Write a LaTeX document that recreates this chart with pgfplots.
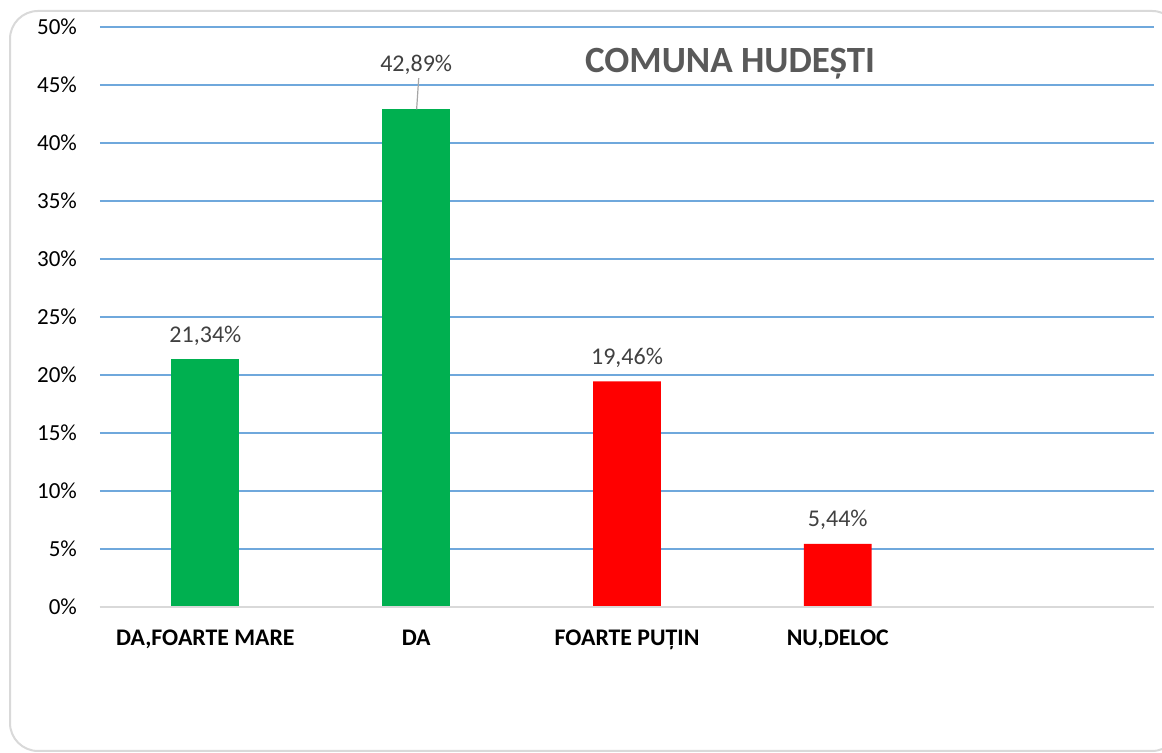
\documentclass[border=0pt]{standalone}
\usepackage{fontspec}
\setmainfont{Carlito}
\usepackage{pgfplots}
\pgfplotsset{compat=1.18}
\definecolor{cgreen}{HTML}{00B050}
\definecolor{cred}{HTML}{FF0000}
\definecolor{cgrid}{HTML}{6FA8DC}
\definecolor{czero}{HTML}{D9D9D9}
\definecolor{clabel}{HTML}{404040}
\definecolor{ctitle}{HTML}{595959}
\begin{document}
\begin{tikzpicture}
\useasboundingbox (0,0) rectangle (581pt,376.5pt);
\clip (0,0) rectangle (581pt,376.5pt);
\draw[czero, line width=1pt, rounded corners=14pt] (5pt,1pt) rectangle (590pt,371pt);
\begin{axis}[
    at={(50pt,73pt)}, anchor=south west,
    scale only axis, width=527pt, height=290pt,
    xmin=-0.5, xmax=4.5, ymin=0, ymax=50,
    xtick={0,1,2,3},
    xticklabels={{DA,FOARTE MARE}, DA, {FOARTE PUȚIN}, {NU,DELOC}},
    ytick={0,5,...,50},
    yticklabel={\pgfmathprintnumber{\tick}\%},
    /pgf/number format/assume math mode=true,
    axis line style={draw=none},
    tick style={draw=none},
    ymajorgrids, grid style={cgrid, line width=0.75pt},
    yticklabel style={font=\fontsize{11.5}{12}\selectfont, text=black, xshift=-8pt},
    xticklabel style={font=\fontsize{11.9}{13}\selectfont\bfseries, text=black, yshift=-8pt},
    clip=false,
]
\addplot[ybar, bar width=0.322, bar shift=0pt, fill=cgreen, draw=none,
    nodes near coords={\pgfmathprintnumber[fixed, fixed zerofill, precision=2, use comma]{\pgfplotspointmeta}\%},
    nodes near coords style={font=\fontsize{12}{13}\selectfont, text=clabel, anchor=south, yshift=3.4pt}]
    coordinates {(0,21.34)};
\addplot[ybar, bar width=0.322, bar shift=0pt, fill=cgreen, draw=none,
    nodes near coords={\pgfmathprintnumber[fixed, fixed zerofill, precision=2, use comma]{\pgfplotspointmeta}\%},
    nodes near coords style={font=\fontsize{12}{13}\selectfont, text=clabel, anchor=south, yshift=13.8pt}]
    coordinates {(1,42.89)};
\addplot[ybar, bar width=0.322, bar shift=0pt, fill=cred, draw=none,
    nodes near coords={\pgfmathprintnumber[fixed, fixed zerofill, precision=2, use comma]{\pgfplotspointmeta}\%},
    nodes near coords style={font=\fontsize{12}{13}\selectfont, text=clabel, anchor=south, yshift=3.4pt}]
    coordinates {(2,19.46) (3,5.44)};
\draw[gray!70, line width=0.6pt] (axis cs:1.012,45.6) -- (axis cs:1.002,42.89);
\draw[czero, line width=1pt] (rel axis cs:0,0) -- (rel axis cs:1,0);
\end{axis}
\node[anchor=base, text=ctitle, font=\fontsize{18.5}{20}\selectfont\bfseries] at (365pt,340pt) {COMUNA HUDEȘTI};
\end{tikzpicture}
\end{document}
